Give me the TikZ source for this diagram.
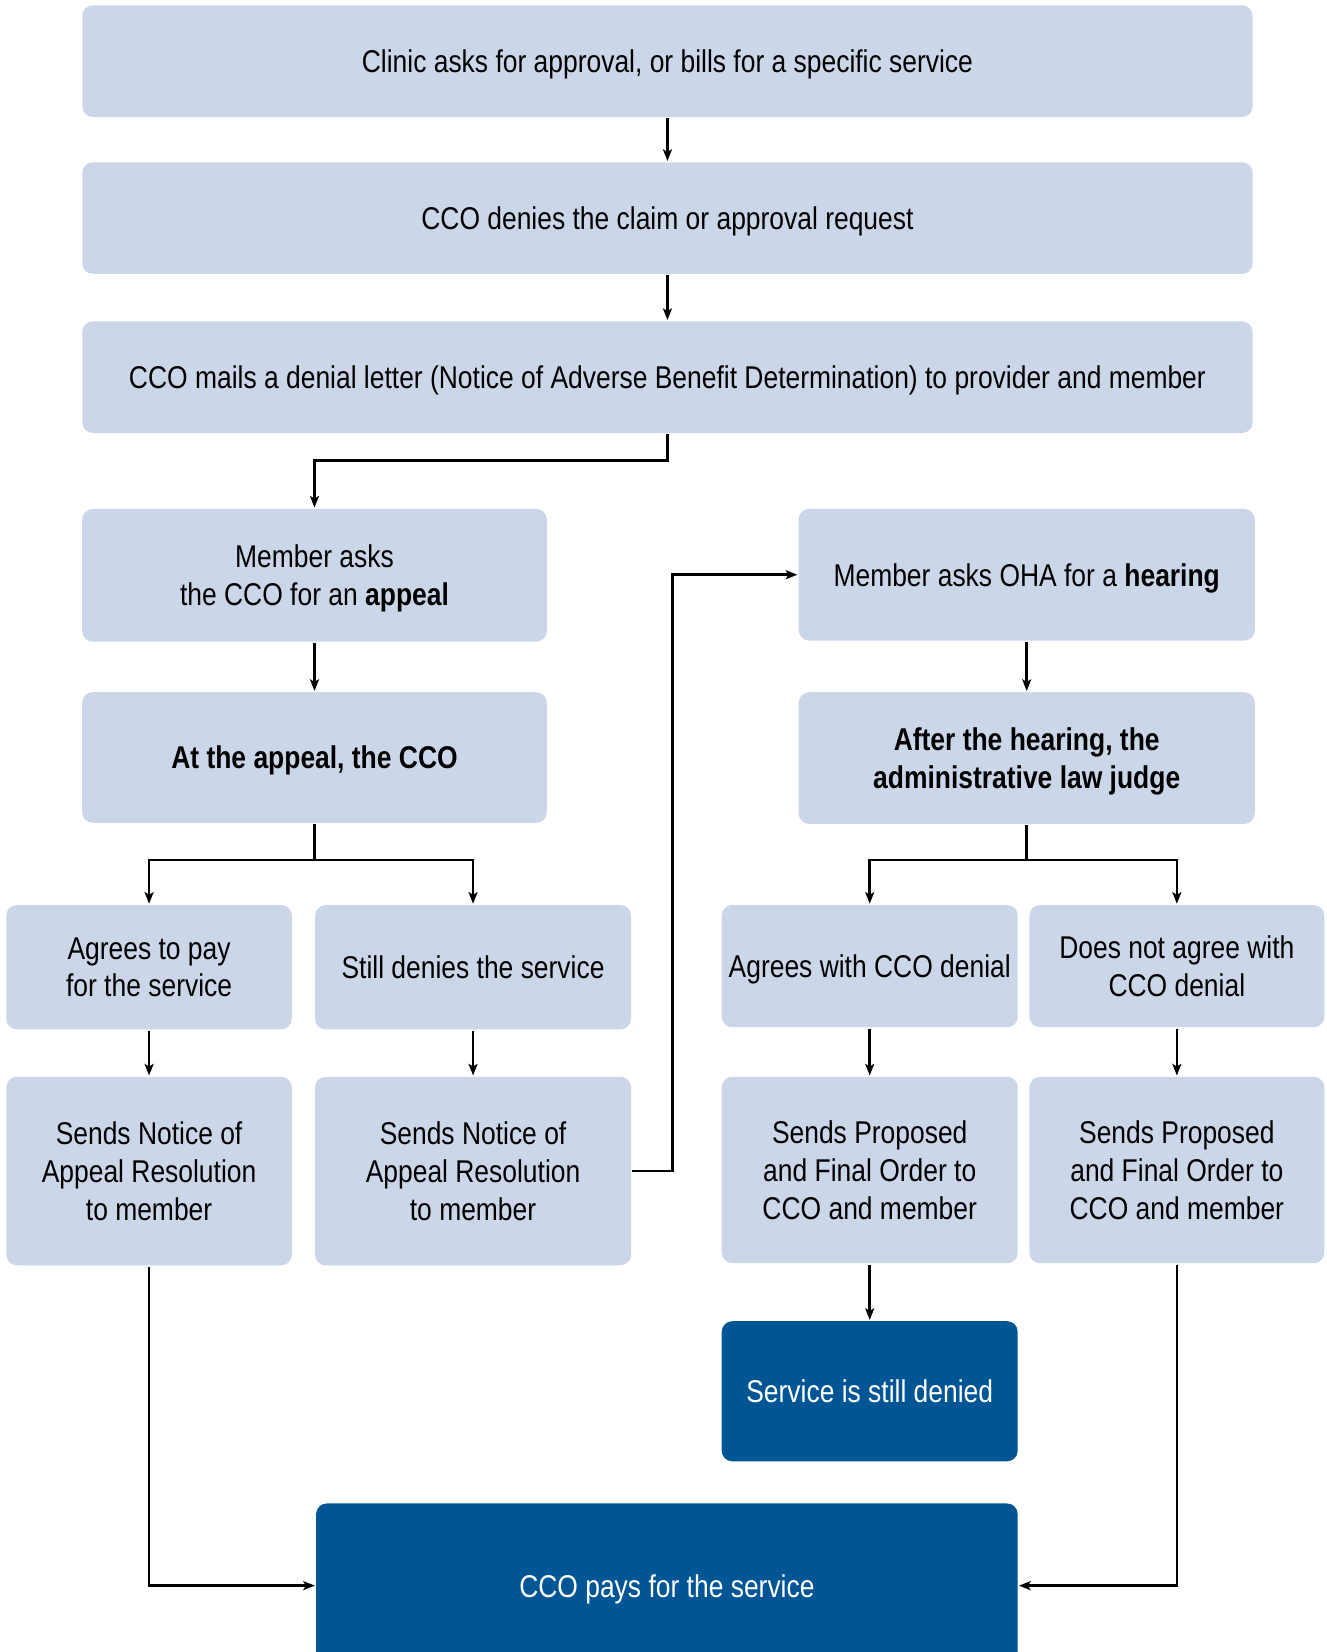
\documentclass[tikz,border=0pt]{standalone}
\usepackage{fontspec}
\setmainfont{Liberation Sans}[FakeStretch=0.84]
\usetikzlibrary{arrows.meta}
\definecolor{paleblue}{RGB}{203,214,232}
\definecolor{deepblue}{RGB}{0,85,148}
\tikzset{
  stepbox/.style={fill=paleblue, rounded corners=0.2cm, align=center, inner sep=2pt, text depth=0pt, font=\fontsize{17}{20.5}\selectfont},
  endbox/.style={stepbox, fill=deepblue, text=white},
}
\begin{document}
\begin{tikzpicture}[>={Stealth[length=0.22cm, width=0.17cm, inset=0.05cm]}, x=0.02cm, y=-0.02cm, line width=1.4pt]
	\clip (0,0) rectangle (1259,1568);

	% top row
	\node[stepbox, minimum width=22.22cm, minimum height=2.12cm] (clinic) at (633.5,58) {Clinic asks for approval, or bills for a specific service};
	\node[stepbox, minimum width=22.22cm, minimum height=2.12cm] (denies) at (633.5,207) {CCO denies the claim or approval request};
	\node[stepbox, minimum width=22.22cm, minimum height=2.12cm] (letter) at (633.5,358) {CCO mails a denial letter (Notice of Adverse Benefit Determination) to provider and member};

	% appeal side
	\node[stepbox, minimum width=8.82cm, minimum height=2.52cm] (appeal) at (298.5,546) {Member asks\\the CCO for an \textbf{appeal}};
	\node[stepbox, minimum width=8.82cm, minimum height=2.48cm] (atappeal) at (298.5,719) {\textbf{At the appeal, the CCO}};
	\node[stepbox, minimum width=5.42cm, minimum height=2.36cm] (agrees) at (141.5,918) {Agrees to pay\\for the service};
	\node[stepbox, minimum width=6cm, minimum height=2.36cm] (still) at (449,918) {Still denies the service};
	\node[stepbox, minimum width=5.42cm, minimum height=3.58cm] (noticeA) at (141.5,1111.5) {Sends Notice of\\Appeal Resolution\\to member};
	\node[stepbox, minimum width=6cm, minimum height=3.58cm] (noticeB) at (449,1111.5) {Sends Notice of\\Appeal Resolution\\to member};

	% hearing side
	\node[stepbox, minimum width=8.66cm, minimum height=2.5cm] (hearing) at (974.5,545.5) {Member asks OHA for a \textbf{hearing}};
	\node[stepbox, minimum width=8.66cm, minimum height=2.5cm] (judge) at (974.5,719.5) {\textbf{After the hearing, the}\\\textbf{administrative law judge}};
	\node[stepbox, minimum width=5.62cm, minimum height=2.32cm] (agreeden) at (825.5,917) {Agrees with CCO denial};
	\node[stepbox, minimum width=5.6cm, minimum height=2.32cm] (notagree) at (1117,917) {Does not agree with\\CCO denial};
	\node[stepbox, minimum width=5.62cm, minimum height=3.54cm] (orderA) at (825.5,1110.5) {Sends Proposed\\and Final Order to\\CCO and member};
	\node[stepbox, minimum width=5.6cm, minimum height=3.54cm] (orderB) at (1117,1110.5) {Sends Proposed\\and Final Order to\\CCO and member};

	% outcomes
	\node[endbox, minimum width=5.62cm, minimum height=2.66cm] (denied) at (825.5,1320.5) {Service is still denied};
	\node[endbox, minimum width=13.32cm, minimum height=3.12cm] (pays) at (633,1505) {CCO pays for the service};

	\draw[->] (clinic) -- (denies);
	\draw[->] (denies) -- (letter);
	\draw[->] (letter.south) -- ++(0,25) -| (appeal.north);
	\draw[->] (appeal) -- (atappeal);
	\draw[->] (hearing) -- (judge);

	\draw (atappeal.south) -- ++(0,34) coordinate (splitA);
	\draw[->] (splitA) -| (agrees.north);
	\draw[->] (splitA) -| (still.north);
	\draw (judge.south) -- ++(0,33) coordinate (splitB);
	\draw[->] (splitB) -| (agreeden.north);
	\draw[->] (splitB) -| (notagree.north);

	\draw[->] (agrees) -- (noticeA);
	\draw[->] (still) -- (noticeB);
	\draw[->] (agreeden) -- (orderA);
	\draw[->] (notagree) -- (orderB);
	\draw[->] (orderA) -- (denied);

	\draw[->] (noticeB.east) -- ++(38,0) |- (hearing.west);
	\draw[->] (noticeA.south) |- (pays.west);
	\draw[->] (orderB.south) |- (pays.east);
\end{tikzpicture}
\end{document}
